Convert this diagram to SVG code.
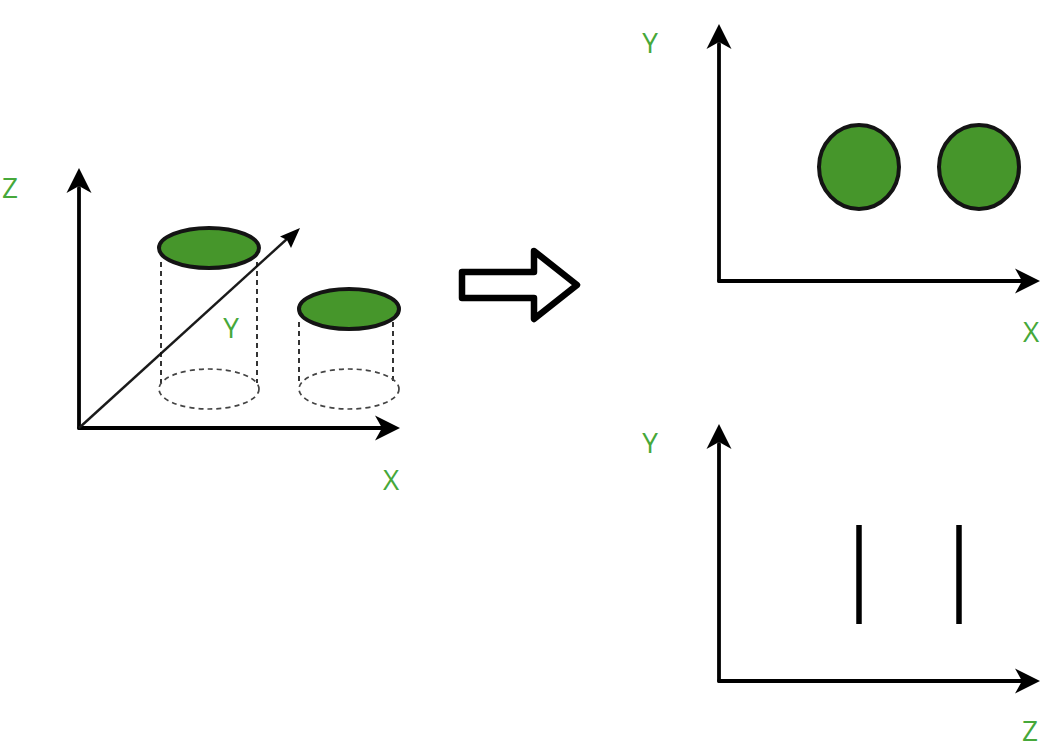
<svg xmlns="http://www.w3.org/2000/svg" width="1062" height="748" viewBox="0 0 1062 748">
<style>
.axis{fill:none;stroke:#000;stroke-width:3.8;stroke-linecap:round}
.thin{fill:none;stroke:#1a1a1a;stroke-width:2.4}
.head{fill:#000;stroke:none}
.dash{fill:none;stroke:#111;stroke-width:1.7;stroke-dasharray:5 4}
.dashe{fill:none;stroke:#444;stroke-width:1.7;stroke-dasharray:5 4}
.disc{fill:#46962b;stroke:#141414;stroke-width:4}
.lab{font-family:"Open Sans","Noto Sans",sans-serif;font-size:28px;fill:#46a83a;text-anchor:middle}
.bar{stroke:#000;stroke-width:5.5;fill:none}
</style>
<defs>
<path id="ah" class="head" d="M0 0L-25 12.500L-18 0L-25 -12.500Z"/>
</defs>
<rect width="1062" height="748" fill="#fff"/>
<g id="connectors">
<path class="axis" d="M79 428V188"/>
<use href="#ah" transform="translate(79 168) rotate(-90)"/>
<path class="axis" d="M79 428H382"/>
<use href="#ah" transform="translate(400 428)"/>
<path class="thin" d="M79 428L288 238"/>
<path class="head" d="M300 228L280 236.500L287 240L291 248Z"/>
<path class="axis" d="M719 281V44"/>
<use href="#ah" transform="translate(719 24) rotate(-90)"/>
<path class="axis" d="M719 281H1022"/>
<use href="#ah" transform="translate(1040 281)"/>
<path class="axis" d="M719 681V444"/>
<use href="#ah" transform="translate(719 424) rotate(-90)"/>
<path class="axis" d="M719 681H1022"/>
<use href="#ah" transform="translate(1040 681)"/>
</g>
<g id="cylinder-1">
<path class="dash" d="M161 262V383M257 262V383"/>
<ellipse class="dashe" cx="209" cy="389" rx="50" ry="20"/>
<ellipse class="disc" cx="209" cy="248" rx="50" ry="20"/>
</g>
<g id="cylinder-2">
<path class="dash" d="M299 322V383M393 322V383"/>
<ellipse class="dashe" cx="349" cy="389" rx="50" ry="20"/>
<ellipse class="disc" cx="349" cy="309" rx="50" ry="20"/>
</g>
<g id="big-arrow">
<path d="M462 272H534V251L577 285L534 319V298H462Z" fill="#fff" stroke="#000" stroke-width="6.500" stroke-linejoin="round"/>
</g>
<g id="circle-1"><ellipse class="disc" cx="859" cy="167" rx="40" ry="42"/></g>
<g id="circle-2"><ellipse class="disc" cx="979" cy="167" rx="40" ry="42"/></g>
<g id="bar-1"><path class="bar" d="M859 525V624"/></g>
<g id="bar-2"><path class="bar" d="M959 525V624"/></g>
<g id="labels">
<text class="lab" x="10" y="198">Z</text>
<text class="lab" x="231" y="338">Y</text>
<text class="lab" x="391" y="490">X</text>
<text class="lab" x="650" y="53">Y</text>
<text class="lab" x="1031" y="342">X</text>
<text class="lab" x="650" y="453">Y</text>
<text class="lab" x="1030" y="741">Z</text>
</g>
</svg>
